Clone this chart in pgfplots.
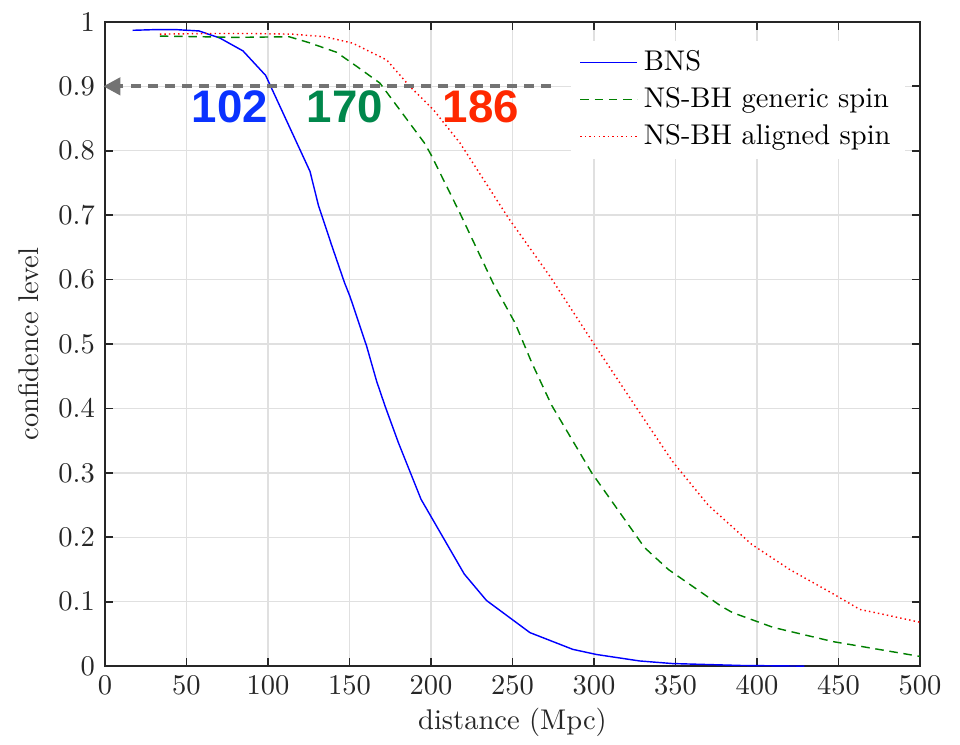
\documentclass[border=0pt]{standalone}
\usepackage{fontspec}
\usepackage{pgfplots}
\pgfplotsset{compat=1.18}
\usetikzlibrary{arrows.meta}
\newfontfamily\annotfont{Liberation Sans}

\definecolor{axgray}{gray}{0.15}
\definecolor{gridgray}{gray}{0.88}
\definecolor{arrowgray}{gray}{0.45}
\definecolor{numblue}{RGB}{10,50,255}
\definecolor{numgreen}{RGB}{0,135,75}
\definecolor{numred}{RGB}{255,40,0}

\begin{document}
\begin{tikzpicture}
\begin{axis}[
  scale only axis,
  width=286pt, height=226pt,
  xmin=0, xmax=500, ymin=0, ymax=1,
  xtick={0,50,...,500},
  ytick={0,0.1,...,1},
  yticklabels={0,0.1,0.2,0.3,0.4,0.5,0.6,0.7,0.8,0.9,1},
  tick align=inside,
  major tick length=3pt,
  axis line style={axgray, line width=0.6pt},
  tick style={axgray, line width=0.6pt},
  ticklabel style={text=axgray},
  grid=major,
  major grid style={gridgray, line width=0.5pt},
  xlabel={distance (Mpc)},
  ylabel={confidence level},
  xlabel style={text=axgray, yshift=2pt},
  ylabel style={text=axgray},
  clip=false,
  legend cell align=left,
  legend style={at={(0.982,0.972)}, anchor=north east, draw=none, fill=white,
    row sep=0.4pt, inner xsep=3pt, inner ysep=1.5pt, font=\normalsize},
  legend image code/.code={\draw[#1] (0pt,0pt) -- (20pt,0pt);},
]

% binary neutron stars
\addplot[blue, line width=0.5pt] coordinates {
  (17,0.987) (30,0.988) (44,0.988) (57.7,0.986) (70.5,0.975) (84.7,0.955)
  (98.6,0.917) (125.8,0.768) (131,0.715) (139,0.654) (147,0.595) (150.3,0.574)
  (160.5,0.497) (166.7,0.442) (171.8,0.404) (180,0.347) (193.9,0.259)
  (220.4,0.143) (234,0.102) (260.7,0.052) (287,0.026) (301.6,0.018)
  (328,0.008) (348,0.004) (390,0.001) (429,0)
};
\addlegendentry{BNS}

% neutron star - black hole, generic spins
\addplot[color={rgb,1:red,0;green,0.5;blue,0}, line width=0.5pt, dash pattern=on 3pt off 2pt] coordinates {
  (33.7,0.978) (60,0.977) (80,0.976) (113,0.977) (125,0.968) (142,0.953)
  (155,0.93) (168.7,0.905) (196,0.812) (200,0.794) (217.8,0.703) (238,0.595)
  (251.5,0.533) (262,0.47) (274,0.405) (298.6,0.300) (331,0.184) (345.6,0.150)
  (378,0.093) (385,0.083) (410,0.06) (446.7,0.038) (500,0.015)
};
\addlegendentry{NS-BH generic spin}

% neutron star - black hole, aligned spins
\addplot[red, line width=0.5pt, dash pattern=on 0.5pt off 1.1pt] coordinates {
  (33.7,0.981) (60,0.982) (90,0.982) (115,0.981) (135,0.977) (152,0.967)
  (172.8,0.941) (187,0.9) (201.4,0.864) (217.8,0.812) (247.4,0.696)
  (273,0.605) (300,0.5) (325,0.405) (344.6,0.331) (348.7,0.316) (370,0.25)
  (396.7,0.189) (420,0.15) (446.8,0.112) (463,0.088) (480,0.079) (500,0.068)
};
\addlegendentry{NS-BH aligned spin}

% 90% confidence level marker
\addplot[arrowgray, line width=1.4pt, dash pattern=on 3.5pt off 2.5pt,
  -{Triangle[length=6pt,width=6pt]}, forget plot] coordinates {
  (273.6,0.9) (-1,0.9)
};

\node[font=\annotfont\bfseries\fontsize{16}{18}\selectfont, text=numblue]  at (axis cs:76.7,0.868)  {102};
\node[font=\annotfont\bfseries\fontsize{16}{18}\selectfont, text=numgreen] at (axis cs:147.2,0.868) {170};
\node[font=\annotfont\bfseries\fontsize{16}{18}\selectfont, text=numred]   at (axis cs:230.5,0.868) {186};
\end{axis}
\pgfresetboundingbox
\path ([shift={(-36.8pt,-27.4pt)}]current axis.south west)
  rectangle ([shift={(14pt,7.7pt)}]current axis.north east);
\end{tikzpicture}
\end{document}
